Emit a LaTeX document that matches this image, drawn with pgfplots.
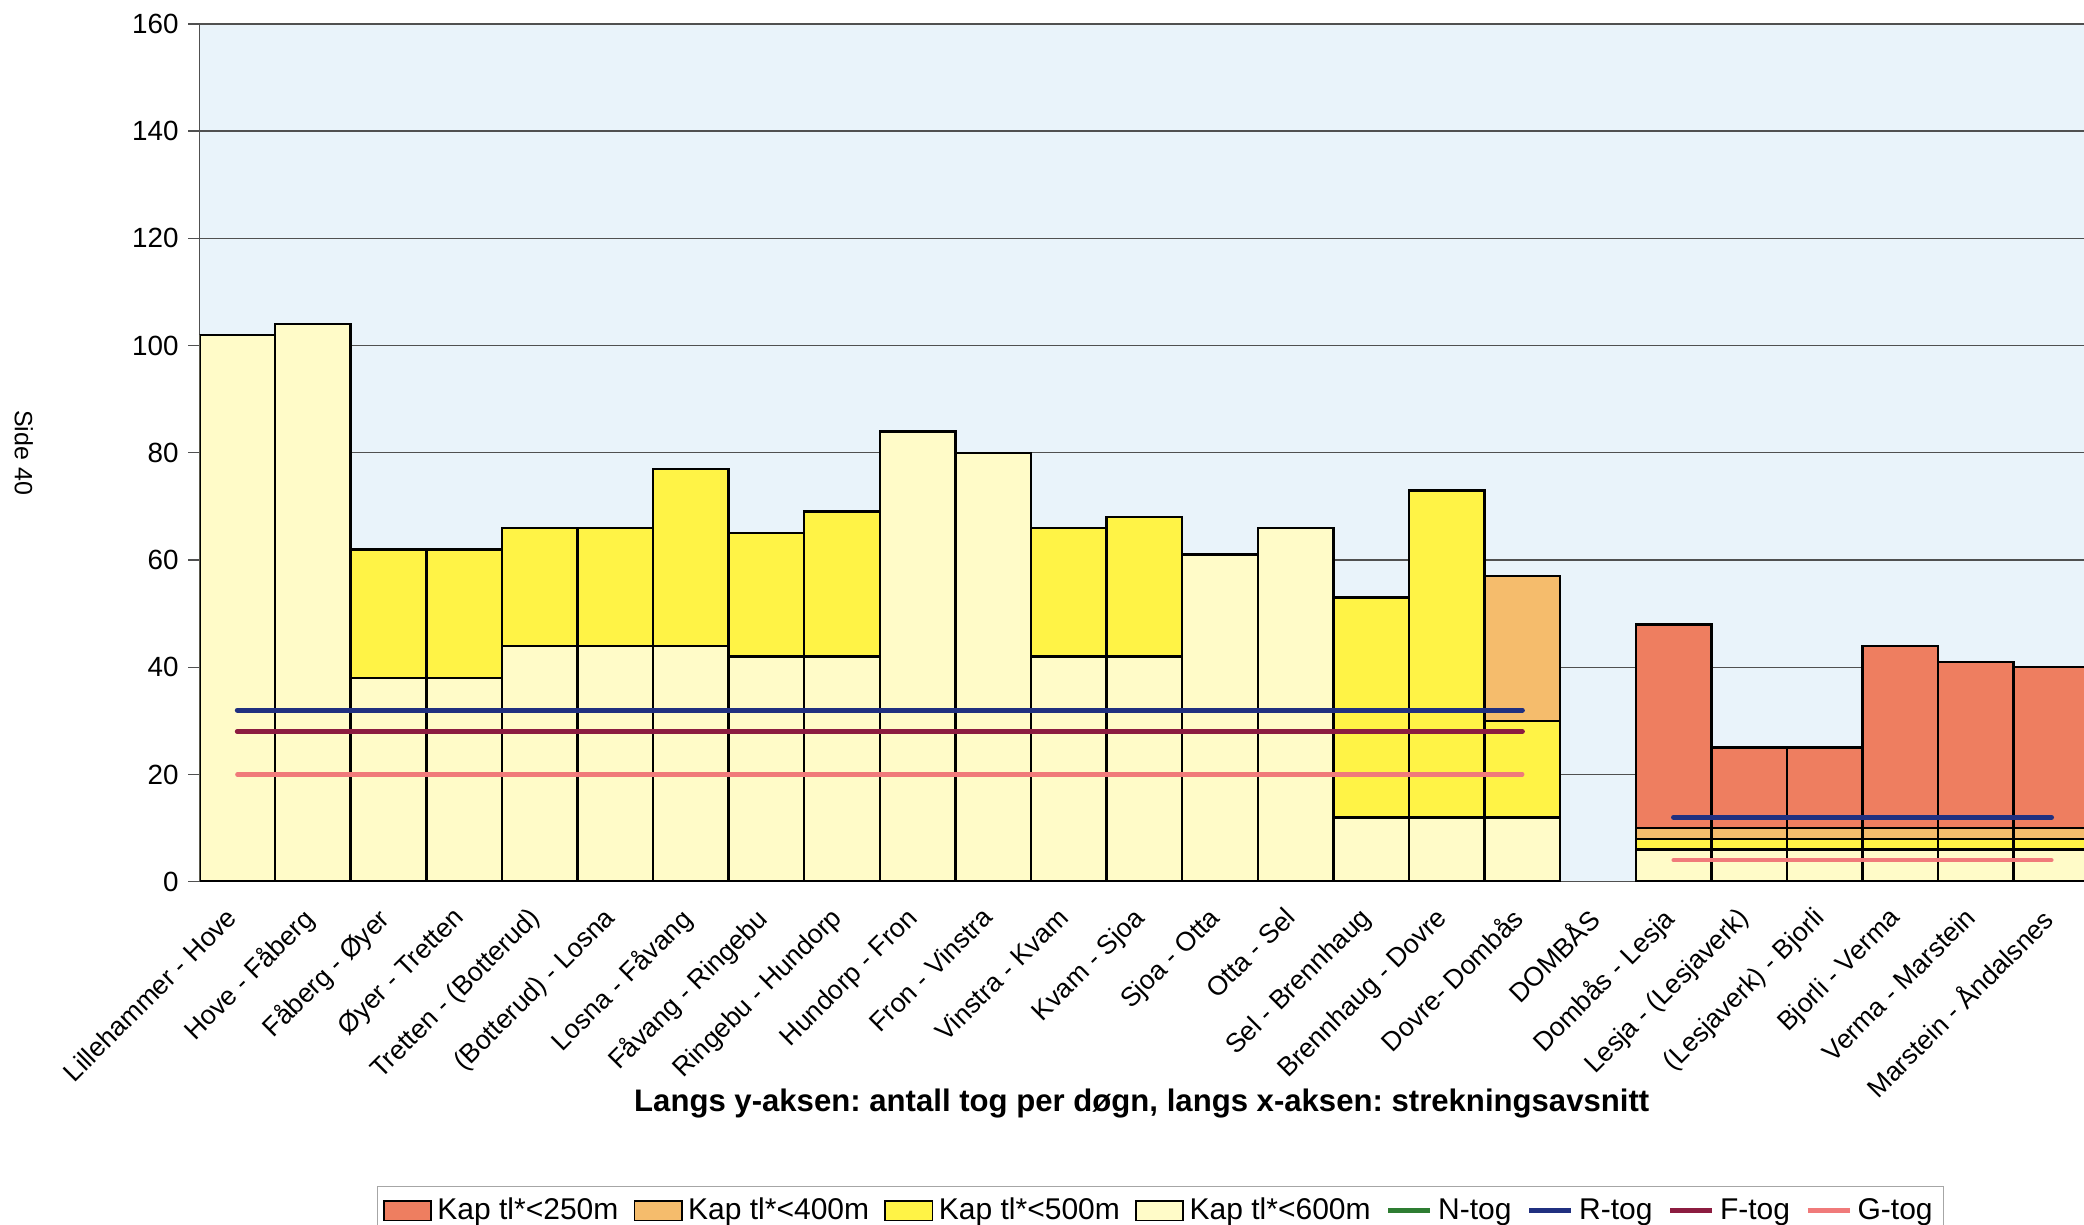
\documentclass[border=0pt]{standalone}
\usepackage{fontspec}
\setmainfont{Liberation Sans}
\usepackage{pgfplots}
\pgfplotsset{compat=1.18}
\definecolor{bgblue}{RGB}{233,243,250}
\definecolor{lightyel}{RGB}{255,251,200}
\definecolor{yel}{RGB}{255,243,70}
\definecolor{orng}{RGB}{245,188,108}
\definecolor{redb}{RGB}{238,126,96}
\definecolor{rtog}{RGB}{32,48,128}
\definecolor{ftog}{RGB}{140,28,64}
\definecolor{gtog}{RGB}{240,122,122}
\definecolor{ntog}{RGB}{46,125,50}
\definecolor{gridc}{RGB}{80,80,80}
\frenchspacing
\begin{document}
\begin{tikzpicture}
\begin{axis}[
  scale only axis, width=678.2pt, height=308.7pt,
  xmin=0, xmax=24.93, ymin=0, ymax=160,
  axis x line*=bottom, axis y line*=left,
  axis line style={line width=0.6pt, draw=gridc},
  axis background/.style={fill=bgblue},
  ytick={0,20,...,160},
  ymajorgrids, grid style={draw=gridc, line width=0.5pt},
  tick align=outside,
  major tick length=4pt, minor tick length=4pt,
  tick style={draw=gridc, line width=0.5pt},
  xtick={0.5,1.5,...,24.5},
  xtick style={draw=none},
  minor xtick={0,1,...,24},
  xticklabels={Lillehammer - Hove, Hove - Fåberg, Fåberg - Øyer, Øyer - Tretten, Tretten - (Botterud), (Botterud) - Losna, Losna - Fåvang, Fåvang - Ringebu, Ringebu - Hundorp, Hundorp - Fron, Fron - Vinstra, Vinstra - Kvam, Kvam - Sjoa, Sjoa - Otta, Otta - Sel, Sel - Brennhaug, Brennhaug - Dovre, Dovre- Dombås, DOMBÅS, Dombås - Lesja, Lesja - (Lesjaverk), (Lesjaverk) - Bjorli, Bjorli - Verma, Verma - Marstein, Marstein - Åndalsnes},
  xticklabel shift=3pt,
  x tick label style={xshift=-4.5pt, rotate=45, anchor=north east, font=\fontsize{9.6}{12}\selectfont, inner sep=1pt},
  y tick label style={font=\fontsize{10}{12}\selectfont},
  /pgf/number format/assume math mode=true,
  xlabel={Langs y-aksen: antall tog per døgn, langs x-aksen: strekningsavsnitt},
  xlabel style={at={(axis description cs:0.5,0)}, anchor=center, yshift=-80pt, font=\bfseries\fontsize{11.2}{13}\selectfont},
  legend columns=8,
  legend style={at={(0.51,-0.355)}, anchor=north, draw=gray!70, fill=white, inner sep=2pt,
    font=\fontsize{10.8}{13}\selectfont, /tikz/every even column/.append style={column sep=3.5pt}},
  unbounded coords=jump,
  clip=true,
]
\addlegendimage{legend image code/.code={\draw[fill=redb,draw=black,line width=0.6pt] (0pt,-3.5pt) rectangle (17pt,3.5pt);}}
\addlegendentry{Kap tl*<250m}
\addlegendimage{legend image code/.code={\draw[fill=orng,draw=black,line width=0.6pt] (0pt,-3.5pt) rectangle (17pt,3.5pt);}}
\addlegendentry{Kap tl*<400m}
\addlegendimage{legend image code/.code={\draw[fill=yel,draw=black,line width=0.6pt] (0pt,-3.5pt) rectangle (17pt,3.5pt);}}
\addlegendentry{Kap tl*<500m}
\addlegendimage{legend image code/.code={\draw[fill=lightyel,draw=black,line width=0.6pt] (0pt,-3.5pt) rectangle (17pt,3.5pt);}}
\addlegendentry{Kap tl*<600m}
\addlegendimage{legend image code/.code={\draw[ntog,line width=1.8pt] (0pt,0pt) -- (15pt,0pt);}}
\addlegendentry{N-tog}
\addlegendimage{legend image code/.code={\draw[rtog,line width=1.8pt] (0pt,0pt) -- (15pt,0pt);}}
\addlegendentry{R-tog}
\addlegendimage{legend image code/.code={\draw[ftog,line width=1.8pt] (0pt,0pt) -- (15pt,0pt);}}
\addlegendentry{F-tog}
\addlegendimage{legend image code/.code={\draw[gtog,line width=1.8pt] (0pt,0pt) -- (15pt,0pt);}}
\addlegendentry{G-tog}
% cumulative layers: Kap<250 (top of stack)
\addplot[ybar, bar width=1, bar shift=0pt, fill=redb, draw=black, line width=0.9pt, forget plot] coordinates {
 (19.5,48) (20.5,25) (21.5,25) (22.5,44) (23.5,41) (24.5,40)};
% Kap<400
\addplot[ybar, bar width=1, bar shift=0pt, fill=orng, draw=black, line width=0.9pt, forget plot] coordinates {
 (17.5,57) (19.5,10) (20.5,10) (21.5,10) (22.5,10) (23.5,10) (24.5,10)};
% Kap<500
\addplot[ybar, bar width=1, bar shift=0pt, fill=yel, draw=black, line width=0.9pt, forget plot] coordinates {
 (2.5,62) (3.5,62) (4.5,66) (5.5,66) (6.5,77) (7.5,65) (8.5,69) (11.5,66) (12.5,68) (15.5,53) (16.5,73) (17.5,30)
 (19.5,8) (20.5,8) (21.5,8) (22.5,8) (23.5,8) (24.5,8)};
% Kap<600
\addplot[ybar, bar width=1, bar shift=0pt, fill=lightyel, draw=black, line width=0.9pt, forget plot] coordinates {
 (0.5,102) (1.5,104) (2.5,38) (3.5,38) (4.5,44) (5.5,44) (6.5,44) (7.5,42) (8.5,42) (9.5,84) (10.5,80) (11.5,42)
 (12.5,42) (13.5,61) (14.5,66) (15.5,12) (16.5,12) (17.5,12)
 (19.5,6) (20.5,6) (21.5,6) (22.5,6) (23.5,6) (24.5,6)};
% G-tog
\addplot[gtog, line width=1.5pt, no marks, line cap=round, forget plot] coordinates {
 (0.5,20) (1.5,20) (2.5,20) (3.5,20) (4.5,20) (5.5,20) (6.5,20) (7.5,20) (8.5,20) (9.5,20) (10.5,20) (11.5,20)
 (12.5,20) (13.5,20) (14.5,20) (15.5,20) (16.5,20) (17.5,20) (18.5,nan)
 (19.5,4) (20.5,4) (21.5,4) (22.5,4) (23.5,4) (24.5,4)};
% F-tog
\addplot[ftog, line width=1.8pt, no marks, line cap=round, forget plot] coordinates {
 (0.5,28) (1.5,28) (2.5,28) (3.5,28) (4.5,28) (5.5,28) (6.5,28) (7.5,28) (8.5,28) (9.5,28) (10.5,28) (11.5,28)
 (12.5,28) (13.5,28) (14.5,28) (15.5,28) (16.5,28) (17.5,28)};
% R-tog
\addplot[rtog, line width=1.8pt, no marks, line cap=round, forget plot] coordinates {
 (0.5,32) (1.5,32) (2.5,32) (3.5,32) (4.5,32) (5.5,32) (6.5,32) (7.5,32) (8.5,32) (9.5,32) (10.5,32) (11.5,32)
 (12.5,32) (13.5,32) (14.5,32) (15.5,32) (16.5,32) (17.5,32) (18.5,nan)
 (19.5,12) (20.5,12) (21.5,12) (22.5,12) (23.5,12) (24.5,12)};
\end{axis}
\node[rotate=-90, font=\fontsize{9}{11}\selectfont] at (-63.2pt,154.4pt) {Side 40};
\pgfresetboundingbox
\useasboundingbox (-71.8pt,-123.4pt) rectangle (678.2pt,317.3pt);
\end{tikzpicture}
\end{document}
